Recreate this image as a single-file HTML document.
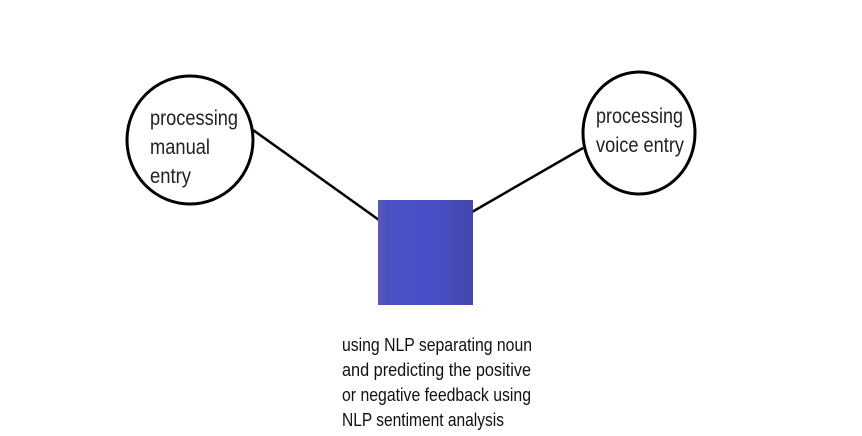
<!DOCTYPE html>
<html><head><style>body{margin:0;background:#fff}svg{display:block}</style></head><body>
<svg width="862" height="436" viewBox="0 0 862 436" xmlns="http://www.w3.org/2000/svg">
<defs><linearGradient id="g" x1="0" x2="1" y1="0" y2="0">
<stop offset="0" stop-color="#5858b4"/><stop offset="0.1" stop-color="#4b50c4"/><stop offset="0.6" stop-color="#4a4fc8"/><stop offset="1" stop-color="#4346ac"/></linearGradient></defs>
<line x1="253" y1="130" x2="379" y2="220" stroke="#000" stroke-width="2.5"/>
<line x1="472" y1="212" x2="583" y2="148" stroke="#000" stroke-width="2.5"/>
<ellipse cx="190" cy="140" rx="63" ry="64" fill="#fff" stroke="#000" stroke-width="3"/>
<ellipse cx="639" cy="133" rx="56" ry="61" fill="#fff" stroke="#000" stroke-width="3"/>
<rect x="378" y="200" width="95" height="105" fill="url(#g)"/>
<g font-family="Liberation Sans, sans-serif" fill="#222" font-size="21">
<text x="150" y="125" textLength="88" lengthAdjust="spacingAndGlyphs">processing</text>
<text x="150" y="154" textLength="60" lengthAdjust="spacingAndGlyphs">manual</text>
<text x="150" y="183" textLength="41" lengthAdjust="spacingAndGlyphs">entry</text>
<text x="596" y="123" textLength="87" lengthAdjust="spacingAndGlyphs">processing</text>
<text x="596" y="152" textLength="88" lengthAdjust="spacingAndGlyphs">voice entry</text>
</g>
<g font-family="Liberation Sans, sans-serif" fill="#111" font-size="18">
<text x="342" y="351" textLength="190" lengthAdjust="spacingAndGlyphs">using NLP separating noun</text>
<text x="342" y="376" textLength="189" lengthAdjust="spacingAndGlyphs">and predicting the positive</text>
<text x="342" y="401" textLength="189" lengthAdjust="spacingAndGlyphs">or negative feedback using</text>
<text x="342" y="426" textLength="162" lengthAdjust="spacingAndGlyphs">NLP sentiment analysis</text>
</g>
</svg>
</body></html>
